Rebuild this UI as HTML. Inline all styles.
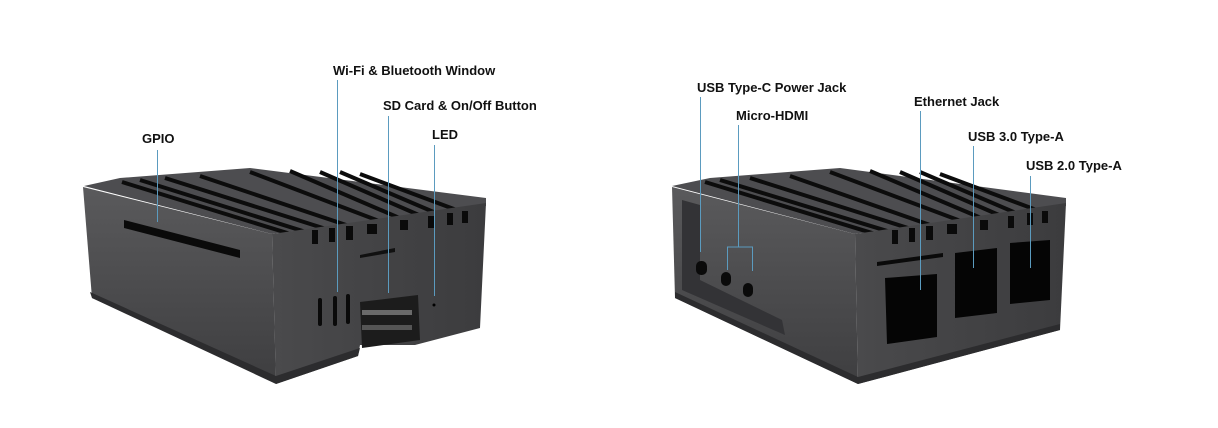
<!DOCTYPE html>
<html><head><meta charset="utf-8"><style>
html,body{margin:0;padding:0;background:#fff;}
svg{display:block}
text{font-family:"Liberation Sans",sans-serif;font-weight:bold;font-size:13px;fill:#111}
</style></head><body>
<svg width="1218" height="428" viewBox="0 0 1218 428" xmlns="http://www.w3.org/2000/svg">
<rect width="1218" height="428" fill="#fff"/>
<defs>
<linearGradient id="lf" x1="0" y1="0" x2="0" y2="1"><stop offset="0" stop-color="#5a5a5c"/><stop offset="1" stop-color="#3e3e40"/></linearGradient>
<linearGradient id="ff" x1="0" y1="0" x2="1" y2="0"><stop offset="0" stop-color="#4a4a4c"/><stop offset="1" stop-color="#3c3c3e"/></linearGradient>
</defs>

<!-- LEFT CASE -->
<g>
<polygon points="84,186 120,178 250,168 486,198 486,206 272,234" fill="#4d4d50"/>
<g stroke="#0c0c0c" stroke-width="4">
<line x1="122" y1="182" x2="310" y2="240"/>
<line x1="140" y1="180" x2="325" y2="238"/>
<line x1="165" y1="178" x2="345" y2="235"/>
<line x1="200" y1="176" x2="367" y2="232"/>
<line x1="250" y1="172" x2="400" y2="229"/>
<line x1="290" y1="171" x2="418" y2="226"/>
<line x1="320" y1="172" x2="435" y2="222"/>
<line x1="340" y1="172" x2="450" y2="219"/>
<line x1="360" y1="174" x2="470" y2="215"/>
</g>
<polygon points="83,187 272,234 276,382 92,298" fill="url(#lf)"/>
<polygon points="272,234 486,203 480,328 415,345 360,345 358,356 276,384" fill="url(#ff)"/>
<g fill="#0a0a0a">
<rect x="312" y="230" width="6" height="14"/>
<rect x="329" y="228" width="6" height="14"/>
<rect x="346" y="226" width="7" height="14"/>
<rect x="367" y="224" width="10" height="10"/>
<rect x="400" y="220" width="8" height="10"/>
<rect x="428" y="216" width="6" height="12"/>
<rect x="447" y="213" width="6" height="12"/>
<rect x="462" y="211" width="6" height="12"/>
</g>
<polygon points="92,298 276,384 358,356 360,348 276,376 90,292" fill="#2c2c2e"/>
<polygon points="124,220 240,250 240,258 124,228" fill="#0a0a0a"/>
<polygon points="360,255 395,248 395,252 360,258" fill="#111"/>
<rect x="318" y="298" width="4" height="28" rx="2" fill="#0a0a0a"/>
<rect x="333" y="296" width="4" height="30" rx="2" fill="#0a0a0a"/>
<rect x="346" y="294" width="4" height="30" rx="2" fill="#0a0a0a"/>
<polygon points="360,302 418,295 420,340 362,348" fill="#1c1c1c"/>
<rect x="362" y="310" width="50" height="5" fill="#6a6a6a"/>
<rect x="362" y="325" width="50" height="5" fill="#555"/>
<circle cx="434" cy="305" r="1.5" fill="#000"/>
</g>

<!-- RIGHT CASE -->
<g>
<polygon points="672,186 710,178 840,168 1066,198 1066,206 855,234" fill="#4d4d50"/>
<g stroke="#0c0c0c" stroke-width="4">
<line x1="705" y1="182" x2="895" y2="240"/>
<line x1="720" y1="180" x2="910" y2="238"/>
<line x1="750" y1="178" x2="930" y2="235"/>
<line x1="790" y1="176" x2="950" y2="232"/>
<line x1="830" y1="172" x2="982" y2="229"/>
<line x1="870" y1="171" x2="1000" y2="226"/>
<line x1="900" y1="172" x2="1015" y2="222"/>
<line x1="920" y1="172" x2="1030" y2="219"/>
<line x1="940" y1="174" x2="1050" y2="215"/>
</g>
<polygon points="672,187 855,234 858,384 675,298" fill="url(#lf)"/>
<polygon points="682,200 700,205 700,280 782,320 785,335 682,290" fill="#333336"/>
<polygon points="855,234 1066,203 1060,330 858,384" fill="url(#ff)"/>
<g fill="#0a0a0a">
<rect x="892" y="230" width="6" height="14"/>
<rect x="909" y="228" width="6" height="14"/>
<rect x="926" y="226" width="7" height="14"/>
<rect x="947" y="224" width="10" height="10"/>
<rect x="980" y="220" width="8" height="10"/>
<rect x="1008" y="216" width="6" height="12"/>
<rect x="1027" y="213" width="6" height="12"/>
<rect x="1042" y="211" width="6" height="12"/>
</g>
<polygon points="675,298 858,384 1060,330 1060,324 858,377 675,292" fill="#2c2c2e"/>
<rect x="696" y="261" width="11" height="14" rx="5" fill="#0a0a0a"/>
<rect x="721" y="272" width="10" height="14" rx="5" fill="#0a0a0a"/>
<rect x="743" y="283" width="10" height="14" rx="5" fill="#0a0a0a"/>
<polygon points="877,262 943,253 943,257 877,266" fill="#0a0a0a"/>
<polygon points="885,278 937,274 937,337 887,344" fill="#050505"/>
<polygon points="955,253 997,248 997,313 955,318" fill="#050505"/>
<polygon points="1010,243 1050,240 1050,300 1010,304" fill="#050505"/>
</g>

<!-- leader lines -->
<g stroke="#5b9bbf" stroke-width="1" fill="none">
<line x1="157.5" y1="150" x2="157.5" y2="222"/>
<line x1="337.5" y1="80" x2="337.5" y2="292"/>
<line x1="388.5" y1="116" x2="388.5" y2="293"/>
<line x1="434.5" y1="145" x2="434.5" y2="296"/>
<line x1="700.5" y1="97" x2="700.5" y2="252"/>
<polyline points="738.5,125 738.5,247"/>
<polyline points="727.5,270 727.5,247 752.5,247 752.5,271"/>
<line x1="920.5" y1="111" x2="920.5" y2="290"/>
<line x1="973.5" y1="146" x2="973.5" y2="268"/>
<line x1="1030.5" y1="176" x2="1030.5" y2="268"/>
</g>

<text x="142" y="143">GPIO</text>
<text x="333" y="75">Wi-Fi &amp; Bluetooth Window</text>
<text x="383" y="110">SD Card &amp; On/Off Button</text>
<text x="432" y="139">LED</text>
<text x="697" y="92">USB Type-C Power Jack</text>
<text x="736" y="120">Micro-HDMI</text>
<text x="914" y="106">Ethernet Jack</text>
<text x="968" y="141">USB 3.0 Type-A</text>
<text x="1026" y="170">USB 2.0 Type-A</text>
</svg>
</body></html>
